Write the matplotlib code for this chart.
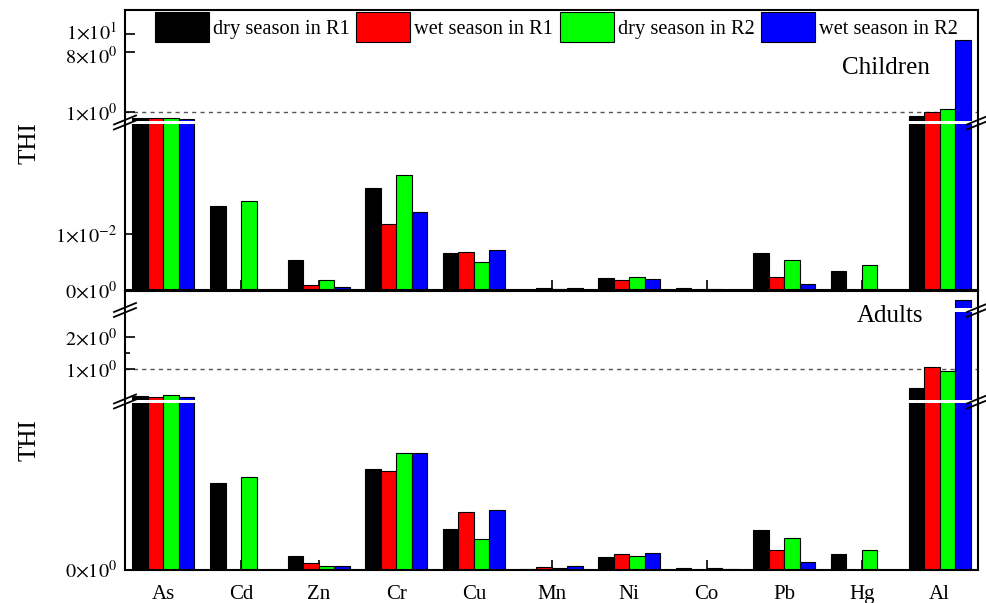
import matplotlib
matplotlib.use('Agg')
import matplotlib.pyplot as plt
import numpy as np
from matplotlib.lines import Line2D
from matplotlib.patches import Rectangle
from matplotlib.ticker import FixedLocator, FixedFormatter
from matplotlib.transforms import ScaledTranslation

plt.rcParams['font.family'] = ['Liberation Serif', 'DejaVu Serif']
plt.rcParams['mathtext.fontset'] = 'stix'

# data
elements = ['As', 'Cd', 'Zn', 'Cr', 'Cu', 'Mn', 'Ni', 'Co', 'Pb', 'Hg', 'Al']
series_labels = ['dry season in R1', 'wet season in R1', 'dry season in R2', 'wet season in R2']
colors = ['#000000', '#ff0000', '#00ff00', '#0000ff']

children_dry_r1 = [0.233, 0.0151, 0.0054, 0.0183, 0.0066, 0.00005, 0.0021, 0.0003, 0.0066, 0.0034, 0.53]
children_wet_r1 = [0.21, 0.0, 0.0009, 0.0118, 0.0069, 0.0004, 0.0018, 0.0, 0.0023, 0.0, 1.0]
children_dry_r2 = [0.26, 0.0160, 0.0018, 0.0206, 0.0051, 0.0002, 0.0023, 0.0002, 0.0054, 0.0045, 1.31]
children_wet_r2 = [0.15, 0.0, 0.0005, 0.0140, 0.0071, 0.0004, 0.0020, 0.0, 0.0011, 0.0, 9.35]

adults_dry_r1 = [0.156, 0.0154, 0.0024, 0.0180, 0.0072, 0.0001, 0.0023, 0.0002, 0.0071, 0.0027, 0.39]
adults_wet_r1 = [0.106, 0.0, 0.00115, 0.0176, 0.0103, 0.00045, 0.0028, 0.0, 0.0034, 0.0, 1.04]
adults_dry_r2 = [0.169, 0.0165, 0.0007, 0.0208, 0.0055, 0.0002, 0.0025, 0.0002, 0.0057, 0.0034, 0.94]
adults_wet_r2 = [0.106, 0.0, 0.0007, 0.0208, 0.0107, 0.0006, 0.0030, 0.00005, 0.0014, 0.0, 3.35]

children = [children_dry_r1, children_wet_r1, children_dry_r2, children_wet_r2]
adults = [adults_dry_r1, adults_wet_r1, adults_dry_r2, adults_wet_r2]

W, H = 986, 603
X0, X1 = 125, 978
fig = plt.figure(figsize=(W / 100, H / 100), dpi=100)


def seg_axes(top, bottom):
    return fig.add_axes([X0 / W, 1 - bottom / H, (X1 - X0) / W, (bottom - top) / H])


def draw_bars(ax, data, ylo=None, cut=None):
    # upper segments: only bars that pass the break value, drawn from below the view
    x = np.arange(len(elements))
    hs = []
    for i, vals in enumerate(data):
        vals = np.array(vals, dtype=float)
        if ylo is None:
            b = ax.bar(x + (i - 1.5) * 0.2, vals, 0.2, color=colors[i],
                       edgecolor='black', linewidth=0.8, label=series_labels[i], zorder=2)
        else:
            base = ylo - 1.0
            heights = np.where(vals > cut, vals - base, 0.0)
            b = ax.bar(x + (i - 1.5) * 0.2, heights, 0.2, bottom=base, color=colors[i],
                       edgecolor='black', linewidth=0.8, label=series_labels[i], zorder=2)
        hs.append(b)
    ax.set_xlim(-0.495, 10.495)
    for s in ax.spines.values():
        s.set_linewidth(1.5)
    return hs


def style_ticks(ax):
    ax.tick_params(axis='both', which='both', direction='in', width=1.2, right=False, top=False)
    ax.tick_params(axis='y', which='major', length=7, labelsize=14.5, pad=6)
    ax.tick_params(axis='y', which='minor', length=3.5)
    ax.tick_params(axis='x', which='major', length=7, labelsize=15, pad=11)


def set_yticks(ax, vals, labels, minor=None):
    ax.yaxis.set_major_locator(FixedLocator(vals))
    ax.yaxis.set_major_formatter(FixedFormatter(labels))
    ax.yaxis.set_minor_locator(FixedLocator(minor if minor else []))


def break_mark(y):
    fig.add_artist(Rectangle(((X0 + 1) / W, 1 - (y + 1.7) / H), (X1 - X0 - 2) / W, 3.4 / H,
                             transform=fig.transFigure, facecolor='white', edgecolor='none', zorder=5))
    for xc in (X0, X1):
        for dy in (-2.5, 2.5):
            fig.add_artist(Line2D([(xc - 11) / W, (xc + 11) / W],
                                  [1 - (y + dy + 4.5) / H, 1 - (y + dy - 4.5) / H],
                                  transform=fig.transFigure, color='black', lw=1.3, zorder=6))


def mid_segment(ax, top_spine=False, bottom_spine=False):
    ax.spines['top'].set_visible(top_spine)
    ax.spines['bottom'].set_visible(bottom_spine)
    if not bottom_spine:
        ax.tick_params(axis='x', which='both', bottom=False, labelbottom=False)


# ---- children panel
c_hi = seg_axes(10, 122.5)
c_lo = seg_axes(122.5, 290)
c_hi_lim = (-0.256, 12.83)
c_lo_lim = (0, 0.0301)
draw_bars(c_hi, children, ylo=c_hi_lim[0], cut=c_lo_lim[1])
handles = draw_bars(c_lo, children)
c_hi.set_ylim(*c_hi_lim)
c_lo.set_ylim(*c_lo_lim)
c_hi.axhline(1, color='#555555', ls=(0, (3, 3)), lw=1, zorder=1)
set_yticks(c_hi, [1, 8, 10], [r'$1{\times}10^{0}$', r'$8{\times}10^{0}$', r'$1{\times}10^{1}$'])
set_yticks(c_lo, [0, 0.01], [r'$0{\times}10^{0}$', r'$1{\times}10^{-2}$'])
c_lo.set_xticks(np.arange(len(elements)))
for ax in (c_hi, c_lo):
    style_ticks(ax)
mid_segment(c_hi, top_spine=True)
mid_segment(c_lo, bottom_spine=True)
c_lo.tick_params(axis='x', labelbottom=False)
break_mark(122.5)

# nudge the two crowded labels apart a little, as in the original
for lbl, dy in zip(c_hi.get_yticklabels(), [0, -2.5, 2.5]):
    lbl.set_transform(lbl.get_transform() + ScaledTranslation(0, dy / 72, fig.dpi_scale_trans))

# ---- adults panel
a_top = seg_axes(291, 310)
a_mid = seg_axes(310, 401.5)
a_lo = seg_axes(401.5, 569.5)
a_top_lim = (2.83, 3.8)
a_mid_lim = (-0.025, 2.83)
a_lo_lim = (0, 0.03)
draw_bars(a_top, adults, ylo=a_top_lim[0], cut=a_mid_lim[1])
draw_bars(a_mid, adults, ylo=a_mid_lim[0], cut=a_lo_lim[1])
draw_bars(a_lo, adults)
a_top.set_ylim(*a_top_lim)
a_mid.set_ylim(*a_mid_lim)
a_lo.set_ylim(*a_lo_lim)
a_mid.axhline(1, color='#555555', ls=(0, (3, 3)), lw=1, zorder=1)
set_yticks(a_top, [], [])
set_yticks(a_mid, [1, 2], [r'$1{\times}10^{0}$', r'$2{\times}10^{0}$'], minor=[1.5])
set_yticks(a_lo, [0], [r'$0{\times}10^{0}$'])
a_lo.set_xticks(np.arange(len(elements)))
a_lo.set_xticklabels(elements)
for ax in (a_top, a_mid, a_lo):
    style_ticks(ax)
mid_segment(a_top, top_spine=True)
mid_segment(a_mid)
mid_segment(a_lo, bottom_spine=True)
break_mark(310)
break_mark(401.5)

# ---- texts
fig.text(886 / W, 1 - 68 / H, 'Children', ha='center', va='center', fontsize=18, zorder=10)
fig.text(890 / W, 1 - 316 / H, 'Adults', ha='center', va='center', fontsize=18, zorder=10)
fig.text(30 / W, 1 - 143 / H, 'THI', rotation=90, ha='center', va='center', fontsize=18)
fig.text(30 / W, 1 - 440 / H, 'THI', rotation=90, ha='center', va='center', fontsize=18)

fig.legend(handles=handles, loc='upper left', bbox_to_anchor=(155 / W, 1 - 12 / H),
           ncol=4, frameon=False, fontsize=14.7, handlelength=2.65, handleheight=1.9,
           handletextpad=0.2, columnspacing=0.3, borderpad=0, borderaxespad=0)

fig.savefig('out.png', dpi=100)
